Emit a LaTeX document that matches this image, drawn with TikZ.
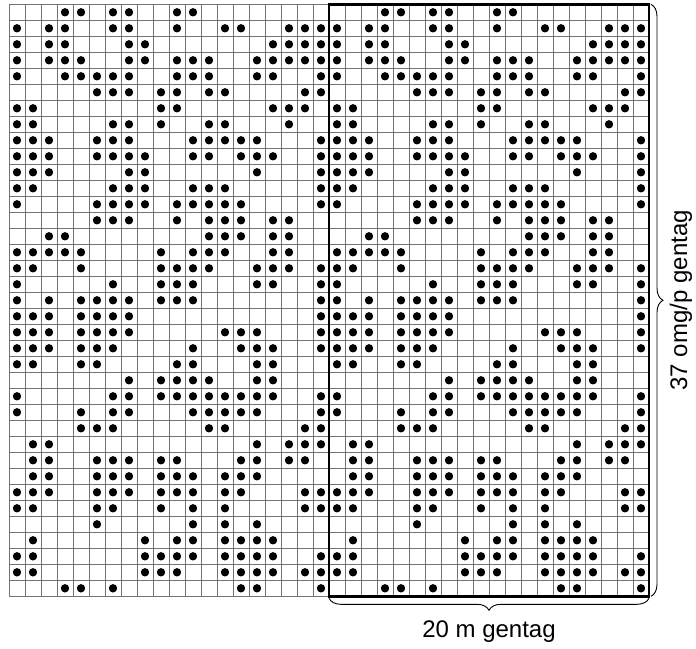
\documentclass[tikz,border=0pt]{standalone}
\usepackage{fontspec}
\setmainfont{Liberation Sans}
\usetikzlibrary{decorations.pathreplacing}

\begin{document}
\begin{tikzpicture}[x=16pt,y=16pt,
		cellline/.style={black!55,line width=0.9pt},
		repeatbox/.style={black,line width=2.6pt},
		gentagbrace/.style={decorate,decoration={brace,amplitude=12pt,raise=2pt},line width=0.9pt},
		chartlabel/.style={font=\fontsize{24}{28}\selectfont}]
			\useasboundingbox (-9pt,-51.7pt) rectangle (687pt,596.3pt);
			\draw[cellline,step=16pt] (0,0) grid (40,37);
			\foreach \r/\cl in {1/{4,5,7,8,11,12},2/{1,3,4,7,8,11,14,15,18,19,20},3/{1,3,4,8,9,17,18,19,20},
				4/{1,3,4,5,8,9,11,12,13,16,17,18,19,20},5/{1,4,5,6,7,8,11,12,13,16,17,20},6/{6,7,8,10,11,13,14,19,20},
				7/{1,2,10,11,17,18,19},8/{1,2,7,8,10,13,14,18},9/{1,2,3,6,7,8,12,13,14,15,16,20},
				10/{1,2,3,6,7,8,9,12,13,15,16,17,20},11/{1,2,3,8,9,16,20},12/{1,2,7,8,9,12,13,14,20},
				13/{1,6,7,8,9,11,12,13,14,15,20},14/{6,7,8,11,13,14,15,17,18},15/{3,4,13,14,15,17,18},
				16/{1,2,3,4,5,10,12,13,14,17,18},17/{1,2,5,10,11,12,13,16,17,18,20},18/{1,7,10,11,12,16,17,20},
				19/{1,3,5,6,7,8,10,11,12,20},20/{1,2,3,5,6,7,8,20},21/{1,2,3,5,6,7,8,14,15,16,20},
				22/{1,2,3,5,6,7,12,15,16,17,20},23/{1,2,5,6,11,12,16,17},24/{8,10,11,12,13,16,17},
				25/{1,7,8,10,11,12,13,14,15,16,17,20},26/{1,5,7,8,12,13,14,15,16,20},27/{5,6,7,13,14,19,20},
				28/{2,3,16,18,19,20},29/{2,3,6,7,8,10,11,15,16,18,19},30/{2,3,6,7,8,10,11,12,14,15,16},
				31/{1,2,3,6,7,8,10,11,12,14,15,19,20},32/{1,2,6,7,10,12,14,19,20},33/{6,12,14,16},
				34/{2,9,11,12,14,15,16,17},35/{1,2,9,10,11,12,14,15,16,17,20},36/{1,2,9,10,11,14,15,16,17,19,20},
				37/{4,5,7,15,16,20}}
				\foreach \k in {0,20}
					\foreach \c in \cl
						\fill (\c+\k-0.5,37.5-\r) circle (4.2pt);
			\draw[repeatbox] (20,0) rectangle (40,37);
			\draw[gentagbrace] (40,0) -- (20,0);
			\draw[gentagbrace] (40,37) -- (40,0);
			\node[chartlabel,anchor=base] (stitchlabel) at (30,-2.6) {20 m gentag};
			\node[chartlabel,rotate=90] (rowlabel) at (42,18.5) {37 omg/p gentag};
		\end{tikzpicture}
\end{document}
